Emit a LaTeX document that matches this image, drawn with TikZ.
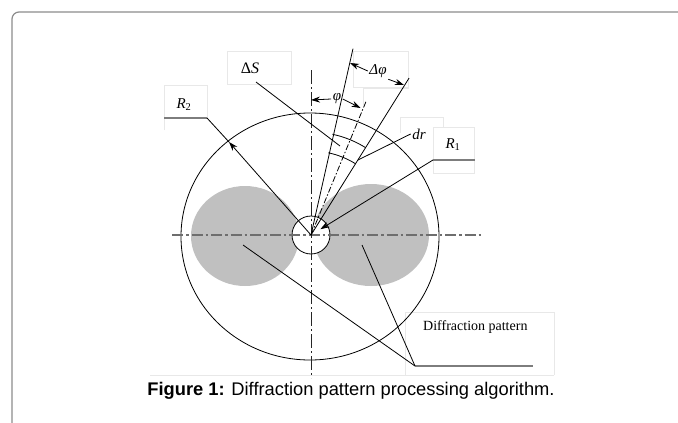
\documentclass[tikz,border=0pt]{standalone}
\usepackage{fontspec}
\setmainfont{Liberation Serif}
\newfontfamily\capfont{Liberation Sans}
\usetikzlibrary{arrows.meta,calc}
\definecolor{lobe}{RGB}{192,192,192}
\definecolor{framec}{RGB}{140,140,140}
\definecolor{faint}{RGB}{232,232,232}
\definecolor{barc}{RGB}{125,125,125}
\definecolor{axisc}{RGB}{110,110,110}
\begin{document}
\begin{tikzpicture}[x=1pt,y=-1pt,
  thin line/.style={black, line width=0.8pt},
  faintbox/.style={draw=faint, line width=0.9pt},
  leadbar/.style={barc, line width=2.2pt},
  arr/.style={-{Stealth[length=9pt,width=6pt]}, black, line width=0.8pt},
  lbl/.style={inner sep=1pt, font=\fontsize{15}{17}\selectfont},
  dimlbl/.style={inner sep=1.5pt, font=\fontsize{15}{17}\selectfont\itshape}]
\useasboundingbox (0,0) rectangle (678,423);
\fill[white] (0,0) rectangle (678,423);
% frame
\draw[framec, line width=1.2pt, rounded corners=7pt] (12,423) -- (12,12) -- (678,12);
% faint text-box outlines
\draw[faintbox] (227,51) rectangle (291,84);
\draw[faintbox] (353,51) rectangle (408,87);
\draw[faintbox] (363,105) -- (363,88) -- (409,88);
\draw[faintbox] (164,130) -- (164,85) -- (207,85) -- (207,118);
\draw[faintbox] (400,133) -- (400,117) -- (443,117) -- (443,127);
\draw[faintbox] (433,127) rectangle (474,173);
\draw[faintbox] (405,375) -- (405,312) -- (554,312) -- (554,375);
\draw[faintbox] (150,375) -- (554,375);
% key points
\coordinate (O) at (311,235);
% lobes
\fill[lobe] (245,236) ellipse [x radius=54, y radius=50];
\fill[lobe] (371,235) ellipse [x radius=58, y radius=51];
% outer circle
\draw[thin line] (310,236.5) ellipse [x radius=129, y radius=123.5];
% inner circle
\draw[thin line, fill=white] (O) circle [radius=19];
% axes
\draw[axisc, line width=1.8pt, dash pattern=on 11pt off 3pt on 2.5pt off 3pt] (172,235) -- (481,235);
\draw[black!85, line width=1pt, dash pattern=on 14pt off 3pt on 2pt off 3pt] (311,70) -- (311,378);
% radial lines
\coordinate (L1) at ($(O)+(-77.3:191)$);
\coordinate (L2) at ($(O)+(-58.0:185)$);
\coordinate (Bs) at ($(O)+(-67.6:146)$);
\draw[thin line] (O) -- (L1);
\draw[thin line] (O) -- (L2);
\draw[black, line width=0.8pt, dash pattern=on 6pt off 2pt on 1.5pt off 2pt] (O) -- (Bs);
% arcs of the area element
\draw[thin line] ($(O)+(-78:84)$) arc[start angle=-78, end angle=-58, radius=84];
\draw[thin line] ($(O)+(-78:103)$) arc[start angle=-78, end angle=-58, radius=103];
% phi dimension
\node[dimlbl] (phi) at (337,99) {φ};
\coordinate (phiL) at (311,100);
\coordinate (phiR) at (360.5,108);
\draw[arr] (phi.west) -- (phiL);
\draw[arr] (phi.east) -- (phiR);
% delta phi dimension
\node[dimlbl] (dphi) at (378,71) {Δφ};
\coordinate (dphiL) at (350,63);
\coordinate (dphiR) at (404,85);
\draw[arr] (dphi.west) -- (dphiL);
\draw[arr] (dphi.south east) -- (dphiR);
% Delta S label
\node[lbl, font=\fontsize{16}{18}\selectfont] (dS) at (250,68) {Δ\textit{S}};
\coordinate (dSend) at (340,146);
\draw[thin line] (256,82) -- (dSend);
% dr label
\node[dimlbl] (dr) at (419,134) {dr};
\coordinate (drend) at (358,160);
\draw[thin line] (dr.west) -- (drend);
% R2
\node[lbl] (R2) at (184,105) {\textit{R}\textsubscript{2}};
\coordinate (R2e) at (207,118);
\coordinate (R2a) at (164,118);
\coordinate (R2tip) at (229,142);
\draw[leadbar] (R2a) -- (R2e);
\draw[arr] (O) -- (R2tip);
\draw[thin line] (R2tip) -- (R2e);
% R1
\node[lbl] (R1) at (453,145) {\textit{R}\textsubscript{1}};
\coordinate (R1e) at (433,160);
\coordinate (R1b) at (475,160);
\draw[leadbar] (R1e) -- (R1b);
\draw[arr] (R1e) -- ($(O)!11pt!(R1e)$);
% Diffraction pattern
\node[anchor=west, inner sep=0pt, font=\fontsize{14}{16}\selectfont] (dp) at (423,327) {Diffraction pattern};
\coordinate (DPe) at (415,366);
\coordinate (DPb) at (533,366);
\coordinate (lobeL) at (243,245);
\coordinate (lobeR) at (362,245);
\draw[leadbar] (DPe) -- (DPb);
\draw[thin line] (DPe) -- (lobeL);
\draw[thin line] (DPe) -- (lobeR);
% caption
\node[anchor=base, inner sep=0pt, font=\capfont\fontsize{18.3}{21}\selectfont] (cap) at (351,395) {\textbf{Figure 1:} Diffraction pattern processing algorithm.};
\end{tikzpicture}
\end{document}
